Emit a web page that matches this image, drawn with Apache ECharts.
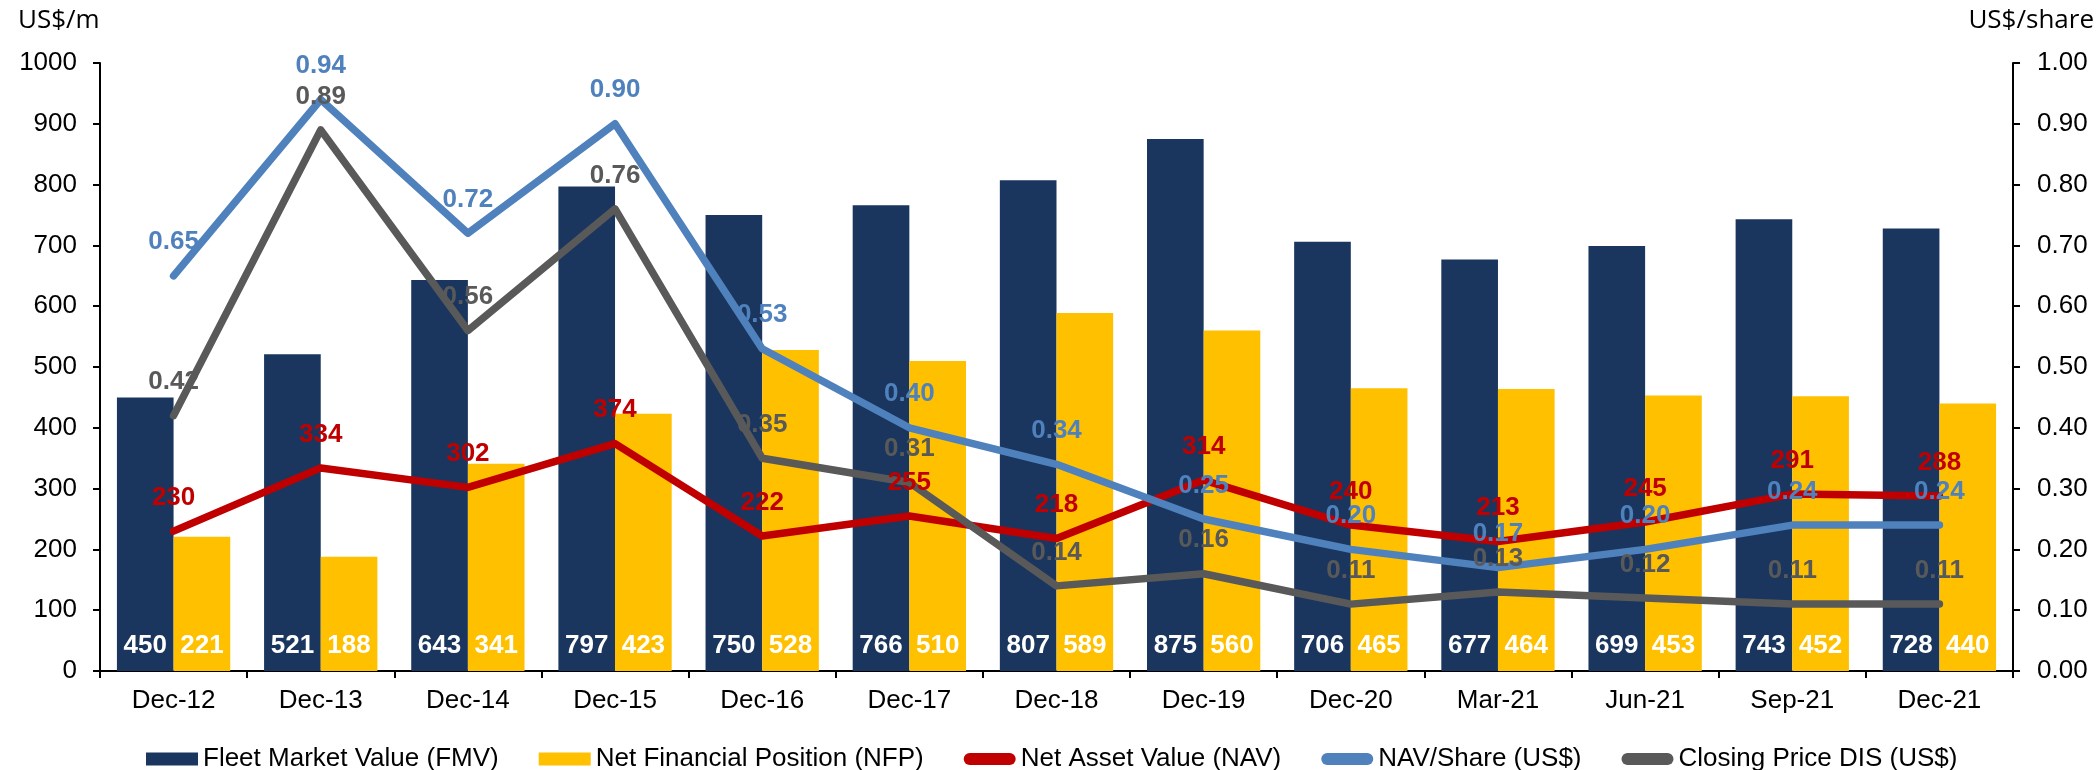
<!DOCTYPE html>
<html>
<head>
<meta charset="utf-8">
<script src="https://cdn.jsdelivr.net/npm/echarts@6/dist/echarts.min.js"></script>
<style>
  html, body { margin: 0; padding: 0; background: #fff; }
  #chart { width: 2096px; height: 770px; }
</style>
</head>
<body>
<div id="chart"></div>
<script>
// Period labels along the category axis
const periods = ['Dec-12', 'Dec-13', 'Dec-14', 'Dec-15', 'Dec-16', 'Dec-17', 'Dec-18',
                 'Dec-19', 'Dec-20', 'Mar-21', 'Jun-21', 'Sep-21', 'Dec-21'];

// US$ millions (left axis)
const fleetMarketValue = [450, 521, 643, 797, 750, 766, 807, 875, 706, 677, 699, 743, 728];
const netFinancialPosition = [221, 188, 341, 423, 528, 510, 589, 560, 465, 464, 453, 452, 440];
const netAssetValue = [230, 334, 302, 374, 222, 255, 218, 314, 240, 213, 245, 291, 288];

// US$ per share (right axis)
const navPerShare = [0.65, 0.94, 0.72, 0.90, 0.53, 0.40, 0.34, 0.25, 0.20, 0.17, 0.20, 0.24, 0.24];
const closingPrice = [0.42, 0.89, 0.56, 0.76, 0.35, 0.31, 0.14, 0.16, 0.11, 0.13, 0.12, 0.11, 0.11];

// Axis unit captions
const leftUnit = 'US$/m';
const rightUnit = 'US$/share';

const FONT = "'Liberation Sans', Arial, sans-serif";
const C_FMV = '#1A365E';
const C_NFP = '#FFC000';
const C_NAV = '#C00000';
const C_NPS = '#4F81BD';
const C_CLS = '#595959';

const lineIcon = 'path://M6,0H46A6,6,0,0,1,46,12H6A6,6,0,0,1,6,0Z';

function barSeries(name, data, color) {
  return {
    name, type: 'bar', data, yAxisIndex: 0,
    barGap: '0%', barCategoryGap: '23%',
    itemStyle: { color },
    label: {
      show: true, position: 'insideBottom', distance: 12,
      color: '#fff', fontFamily: FONT, fontWeight: 'bold', fontSize: 26
    }
  };
}

function lineSeries(name, data, color, axis, digits) {
  return {
    name, type: 'line', data, yAxisIndex: axis,
    symbol: 'circle', symbolSize: 1, showSymbol: true,
    itemStyle: { color },
    lineStyle: { color, width: 7.5, cap: 'round', join: 'round' },
    label: {
      show: true, position: 'top', distance: 20,
      color, fontFamily: FONT, fontWeight: 'bold', fontSize: 26,
      formatter: p => digits ? p.value.toFixed(digits) : String(p.value)
    }
  };
}

const chart = echarts.init(document.getElementById('chart'), null, { renderer: 'canvas' });

chart.setOption({
  animation: false,
  backgroundColor: '#fff',
  textStyle: { fontFamily: FONT, color: '#000' },
  grid: { left: 100, right: 83, top: 63, bottom: 99, containLabel: false },
  graphic: [
    { type: 'text', left: 18, top: 8,
      style: { text: leftUnit, font: "26px 'Open Sans', sans-serif", fill: '#000' } },
    { type: 'text', right: 2, top: 8,
      style: { text: rightUnit, font: "26px 'Open Sans', sans-serif", fill: '#000' } }
  ],
  legend: {
    left: 141, top: 741,
    itemWidth: 52, itemHeight: 13, itemGap: 40,
    textStyle: { fontFamily: FONT, fontSize: 26, color: '#000' },
    data: [
      { name: 'Fleet Market Value (FMV)', icon: 'rect' },
      { name: 'Net Financial Position (NFP)', icon: 'rect' },
      { name: 'Net Asset Value (NAV)', icon: lineIcon },
      { name: 'NAV/Share (US$)', icon: lineIcon },
      { name: 'Closing Price DIS (US$)', icon: lineIcon }
    ]
  },
  xAxis: {
    type: 'category', data: periods, boundaryGap: true,
    axisLine: { show: true, lineStyle: { color: '#000', width: 2 } },
    axisTick: { show: true, length: 7, lineStyle: { color: '#000', width: 2 } },
    axisLabel: { fontFamily: FONT, fontSize: 26, color: '#000', margin: 17 },
    splitLine: { show: false }
  },
  yAxis: [
    {
      type: 'value', min: 0, max: 1000, interval: 100, position: 'left',
      axisLine: { show: true, lineStyle: { color: '#000', width: 2 } },
      axisTick: { show: true, length: 7, lineStyle: { color: '#000', width: 2 } },
      axisLabel: { fontFamily: FONT, fontSize: 26, color: '#000', margin: 23,
                   formatter: v => String(v) },
      splitLine: { show: false }
    },
    {
      type: 'value', min: 0, max: 1, interval: 0.1, position: 'right',
      axisLine: { show: true, lineStyle: { color: '#000', width: 2 } },
      axisTick: { show: true, length: 7, lineStyle: { color: '#000', width: 2 } },
      axisLabel: { fontFamily: FONT, fontSize: 26, color: '#000', margin: 24,
                   formatter: v => v.toFixed(2) },
      splitLine: { show: false }
    }
  ],
  series: [
    barSeries('Fleet Market Value (FMV)', fleetMarketValue, C_FMV),
    barSeries('Net Financial Position (NFP)', netFinancialPosition, C_NFP),
    lineSeries('Net Asset Value (NAV)', netAssetValue, C_NAV, 0, 0),
    lineSeries('NAV/Share (US$)', navPerShare, C_NPS, 1, 2),
    lineSeries('Closing Price DIS (US$)', closingPrice, C_CLS, 1, 2)
  ]
});
</script>
</body>
</html>
